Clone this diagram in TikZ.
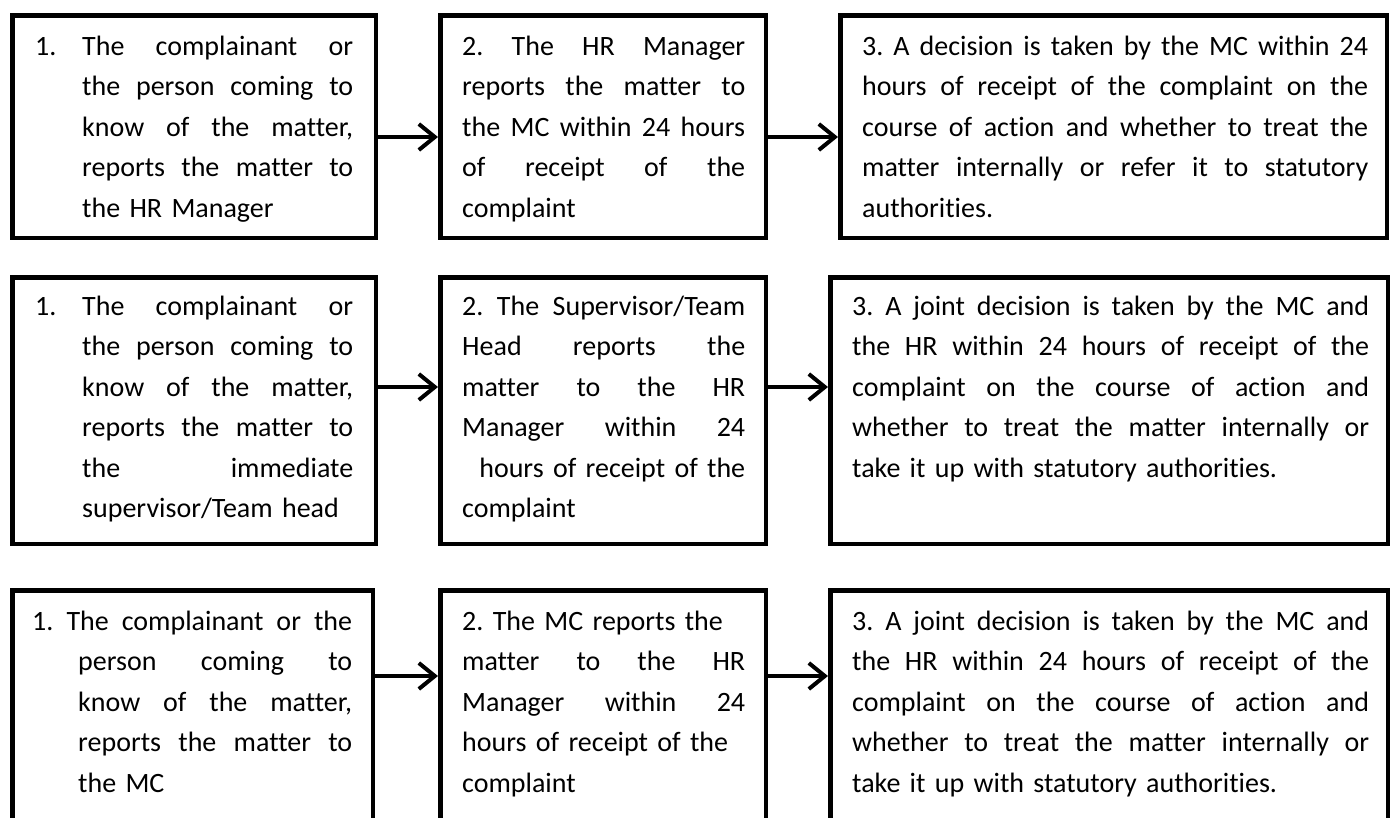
\documentclass[tikz,border=0pt]{standalone}
\usepackage{fontspec}
\setmainfont{Carlito}[Ligatures=NoCommon]
\usetikzlibrary{arrows.meta,positioning}

\newlength\stepindent
\setlength{\stepindent}{47pt}
% one justified line, one numbered line, one indented line
\newcommand{\spreadrow}[2]{{\spaceskip=.226em plus 1fil\relax\makebox[#1][s]{#2}}}
\newcommand{\jrow}[1]{\spreadrow{\hsize}{#1}\par}
\newcommand{\numrow}[2]{\makebox[\stepindent][l]{#1}\spreadrow{\dimexpr\hsize-\stepindent\relax}{#2}\par}
\newcommand{\irow}[1]{\hspace*{\stepindent}\spreadrow{\dimexpr\hsize-\stepindent\relax}{#1}\par}

\tikzset{
  stepbox/.style={draw, line width=4.5pt, anchor=north west, inner sep=0pt},
  steptext/.style={anchor=base west, inner sep=0pt, font=\fontsize{28}{40.5}\selectfont\frenchspacing},
  flow/.style={line width=4pt, -{Straight Barb[length=16pt,width=26pt]}},
}

\begin{document}
\begin{tikzpicture}[x=1pt, y=-1pt]
  \clip (0,0) rectangle (1398,817);
  \fill[white] (0,0) rectangle (1398,817);

  % Row 1: reported to the HR Manager
  \node[stepbox, minimum width=363.5pt, minimum height=222.5pt] (r1a) at (10,13) {};
  \node[stepbox, minimum width=325.5pt, minimum height=222.5pt] (r1b) at (438,13) {};
  \node[stepbox, minimum width=546.5pt, minimum height=222.5pt] (r1c) at (838,13) {};

  \node[steptext, text width=318pt] (t1a) at (35,55) {%
    \numrow{1.}{The complainant or}
    \irow{the person coming to}
    \irow{know of the matter,}
    \irow{reports the matter to}
    \hspace*{\stepindent}the HR Manager};
  \node[steptext, text width=283pt] (t1b) at (462,55) {%
    \jrow{2. The HR Manager}
    \jrow{reports the matter to}
    \jrow{the MC within 24 hours}
    \jrow{of receipt of the}
    complaint};
  \node[steptext, text width=506pt] (t1c) at (862,55) {%
    \jrow{3. A decision is taken by the MC within 24}
    \jrow{hours of receipt of the complaint on the}
    \jrow{course of action and whether to treat the}
    \jrow{matter internally or refer it to statutory}
    authorities.};

  \draw[flow] ([yshift=-124pt]r1a.north east) -- ([yshift=-124pt]r1b.north west);
  \draw[flow] ([yshift=-124pt]r1b.north east) -- ([yshift=-124pt]r1c.north west);

  % Row 2: reported to the supervisor/team head
  \node[stepbox, minimum width=363.5pt, minimum height=266.5pt] (r2a) at (10,275) {};
  \node[stepbox, minimum width=325.5pt, minimum height=266.5pt] (r2b) at (438,275) {};
  \node[stepbox, minimum width=557.5pt, minimum height=266.5pt] (r2c) at (828,275) {};

  \node[steptext, text width=318pt] (t2a) at (35,315) {%
    \numrow{1.}{The complainant or}
    \irow{the person coming to}
    \irow{know of the matter,}
    \irow{reports the matter to}
    \irow{the immediate}
    \hspace*{\stepindent}supervisor/Team head};
  \node[steptext, text width=283pt] (t2b) at (462,315) {%
    \jrow{2. The Supervisor/Team}
    \jrow{Head reports the}
    \jrow{matter to the HR}
    \jrow{Manager within 24}
    \makebox[\hsize][r]{hours of receipt of the}\par
    complaint};
  \node[steptext, text width=517pt] (t2c) at (852,315) {%
    \jrow{3. A joint decision is taken by the MC and}
    \jrow{the HR within 24 hours of receipt of the}
    \jrow{complaint on the course of action and}
    \jrow{whether to treat the matter internally or}
    take it up with statutory authorities.};

  \draw[flow] ([yshift=-112pt]r2a.north east) -- ([yshift=-112pt]r2b.north west);
  \draw[flow] ([yshift=-112pt]r2b.north east) -- ([yshift=-112pt]r2c.north west);

  % Row 3: reported to the MC
  \node[stepbox, minimum width=360.5pt, minimum height=260pt] (r3a) at (10,588) {};
  \node[stepbox, minimum width=325.5pt, minimum height=260pt] (r3b) at (438,588) {};
  \node[stepbox, minimum width=557.5pt, minimum height=260pt] (r3c) at (828,588) {};

  \node[steptext, text width=320pt] (t3a) at (32,630) {%
    \setlength{\stepindent}{46pt}%
    \jrow{1. The complainant or the}
    \irow{person coming to}
    \irow{know of the matter,}
    \irow{reports the matter to}
    \hspace*{\stepindent}the MC};
  \node[steptext, text width=283pt] (t3b) at (462,630) {%
    2. The MC reports the\par
    \jrow{matter to the HR}
    \jrow{Manager within 24}
    hours of receipt of the\par
    complaint};
  \node[steptext, text width=517pt] (t3c) at (852,630) {%
    \jrow{3. A joint decision is taken by the MC and}
    \jrow{the HR within 24 hours of receipt of the}
    \jrow{complaint on the course of action and}
    \jrow{whether to treat the matter internally or}
    take it up with statutory authorities.};

  \draw[flow] ([yshift=-88pt]r3a.north east) -- ([yshift=-88pt]r3b.north west);
  \draw[flow] ([yshift=-88pt]r3b.north east) -- ([yshift=-88pt]r3c.north west);
\end{tikzpicture}
\end{document}
